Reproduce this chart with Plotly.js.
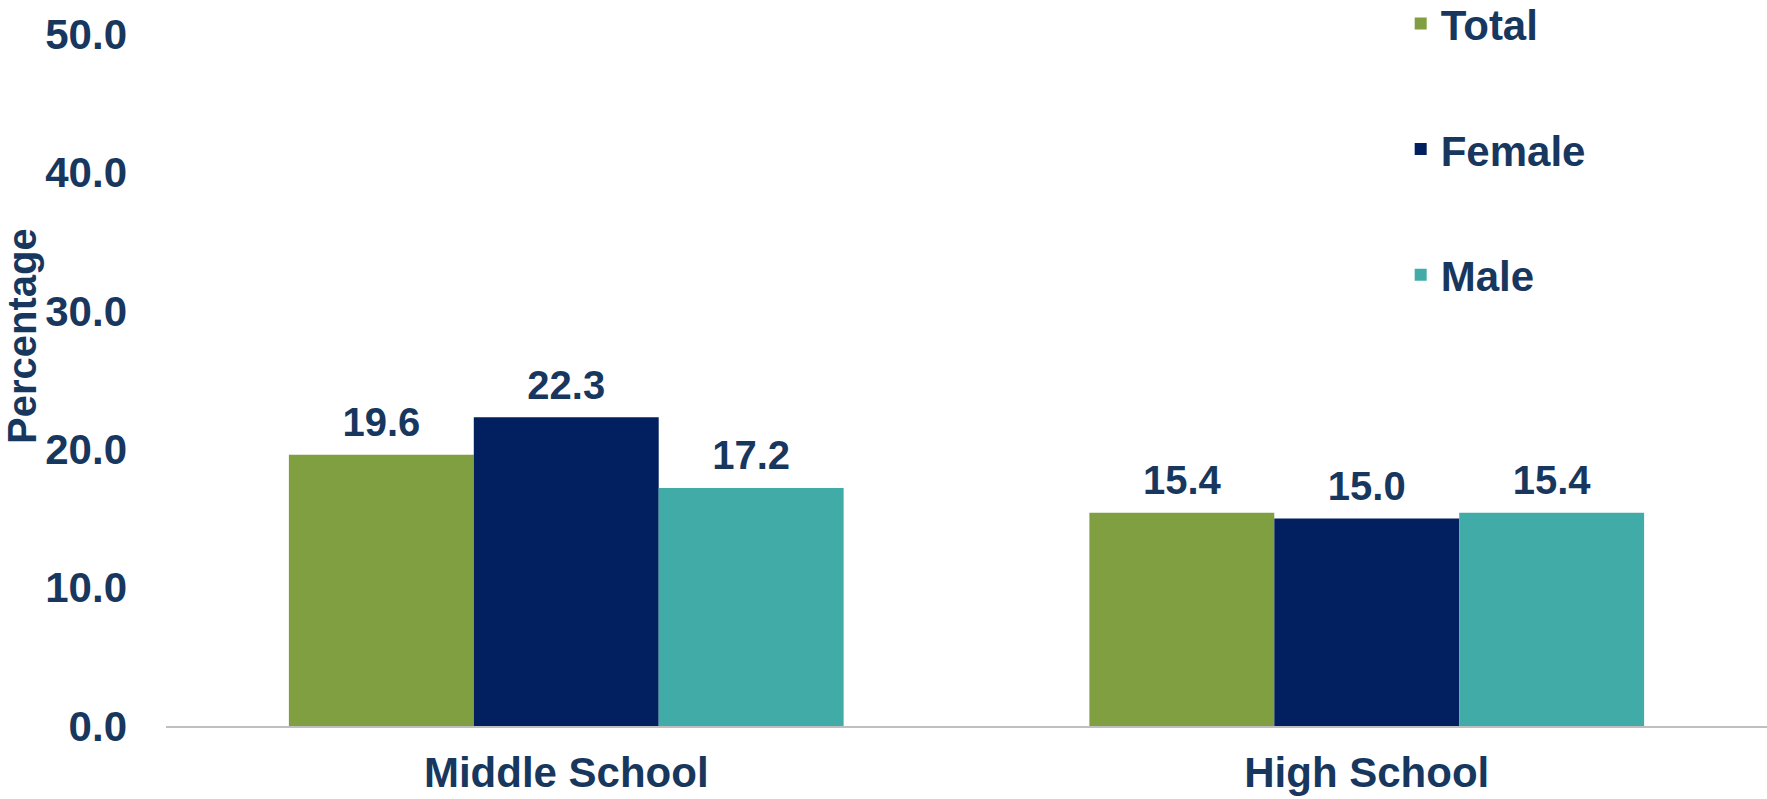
<!DOCTYPE html>
<html>
<head>
<meta charset="utf-8">
<script src="https://cdn.plot.ly/plotly-3.0.1.min.js"></script>
<style>
  html, body { margin: 0; padding: 0; background: #ffffff; }
  #chart { width: 1767px; height: 799px; }
</style>
</head>
<body>
<div id="chart"></div>
<script>
const categories = ["Middle School", "High School"];
const seriesNames = ["Total", "Female", "Male"];
const totalValues = [19.6, 15.4];
const femaleValues = [22.3, 15.0];
const maleValues = [17.2, 15.4];
const yTickValues = [0, 10, 20, 30, 40, 50];
const yAxisTitle = "Percentage";

const colors = ["#7F9F41", "#02205F", "#41ABA7"];
const textColor = "#17375E";
const fontFamily = "Liberation Sans, Arial, sans-serif";
const seriesValues = [totalValues, femaleValues, maleValues];

const barTraces = seriesNames.map((name, i) => ({
  type: "bar",
  name: name,
  legendgroup: name,
  x: categories,
  y: seriesValues[i],
  marker: { color: colors[i], line: { width: 0 } },
  hoverinfo: "x+y+name"
}));

// value labels, grouped the same way as the bars (layout.scattermode = "group")
const labelTraces = seriesNames.map((name, i) => ({
  type: "scatter",
  mode: "markers+text",
  name: name + " label",
  showlegend: false,
  x: categories,
  y: seriesValues[i],
  text: seriesValues[i].map(v => v.toFixed(1)),
  textposition: "top center",
  marker: { size: 12, opacity: 0, color: colors[i] },
  cliponaxis: false,
  textfont: { family: fontFamily, size: 40, color: textColor, weight: "bold" },
  hoverinfo: "skip"
}));

const layout = {
  width: 1767,
  height: 799,
  margin: { l: 166, r: 0, t: 34, b: 73, autoexpand: false },
  paper_bgcolor: "#ffffff",
  plot_bgcolor: "#ffffff",
  barmode: "group",
  scattermode: "group",
  bargap: 0.307,
  bargroupgap: 0,
  scattergap: 0.307,
  showlegend: true,
  legend: {
    x: 0.7712, xanchor: "left",
    y: 1.064, yanchor: "top",
    traceorder: "grouped",
    tracegroupgap: 68,
    font: { family: fontFamily, size: 42, color: textColor, weight: "bold" },
    bgcolor: "rgba(0,0,0,0)",
    borderwidth: 0
  },
  xaxis: {
    type: "category",
    showline: true,
    linecolor: "#BFBFBF",
    linewidth: 2,
    ticks: "",
    showgrid: false,
    zeroline: false,
    ticklabelstandoff: 9,
    tickfont: { family: fontFamily, size: 42, color: textColor, weight: "bold" }
  },
  yaxis: {
    range: [0, 50],
    tickvals: yTickValues,
    ticktext: yTickValues.map(v => v.toFixed(1)),
    showgrid: false,
    zeroline: false,
    showline: false,
    ticks: "",
    ticklabelstandoff: 38,
    tickfont: { family: fontFamily, size: 42, color: textColor, weight: "bold" }
  },
  annotations: [{
    text: yAxisTitle,
    xref: "paper", yref: "paper",
    x: 0, y: 0.5636,
    xshift: -144,
    xanchor: "center", yanchor: "middle",
    textangle: -90,
    showarrow: false,
    font: { family: fontFamily, size: 40, color: textColor, weight: "bold" }
  }]
};

Plotly.newPlot("chart", barTraces.concat(labelTraces), layout, { displayModeBar: false });
</script>
</body>
</html>
